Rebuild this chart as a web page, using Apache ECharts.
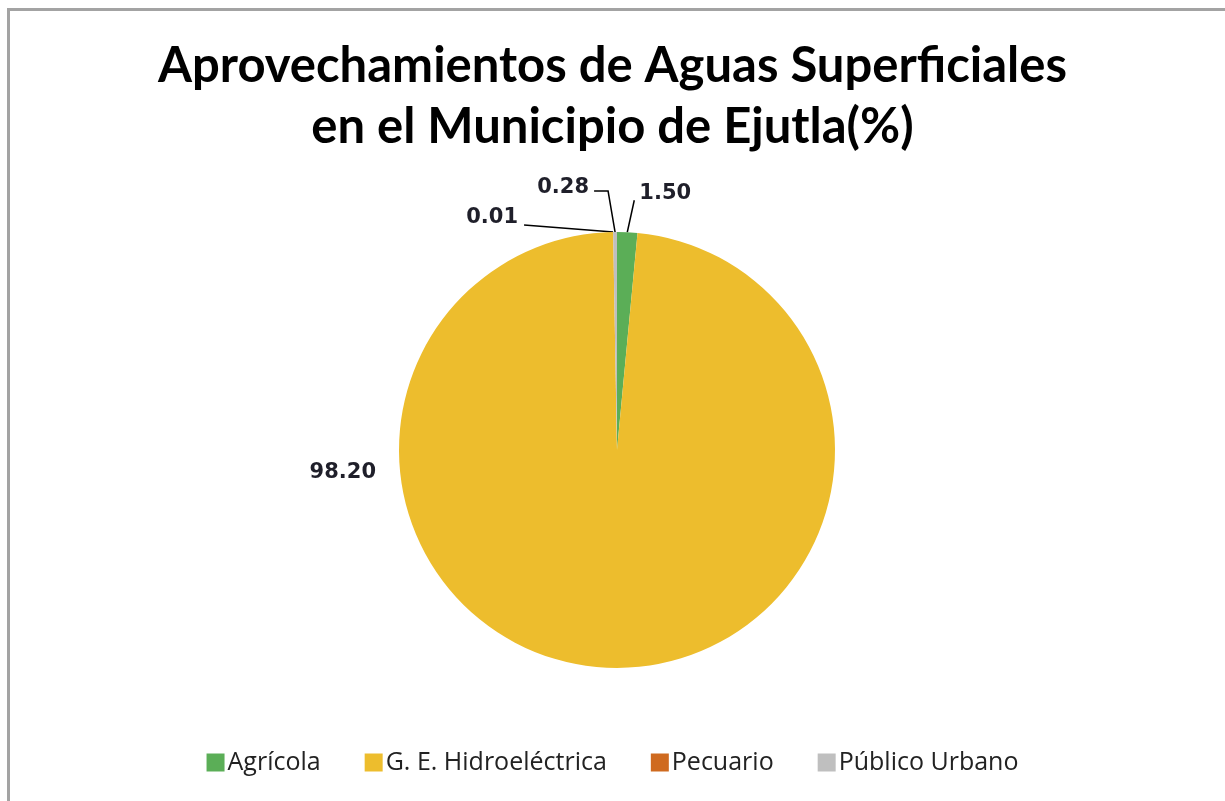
<!DOCTYPE html>
<html>
<head>
<meta charset="utf-8">
<script src="https://cdn.jsdelivr.net/npm/echarts@6/dist/echarts.min.js"></script>
<style>
    html, body {margin: 0; padding: 0; background: #fff;}
    #chart {width: 1225px; height: 801px;}
</style>
</head>
<body>
<div id="chart"></div>
<script>
// data
const categories = ['Agrícola', 'G. E. Hidroeléctrica', 'Pecuario', 'Público Urbano'];
const values = [1.50, 98.20, 0.01, 0.28];
const colors = ['#5bae57', '#edbd2d', '#cf6a1f', '#bfbfbf'];
const titleText = 'Aprovechamientos de Aguas Superficiales\nen el Municipio de Ejutla(%)';

// pie geometry
const CX = 617, CY = 450, R = 218;

// label offsets from the slice edge point (dx, dy)
const labelOffsets = [
    {dx: 38, dy: -39, line: 'diag'},
    {free: true, x: CX - R - 23, y: CY + 23},
    {dx: -121, dy: -14, line: 'straight'},
    {dx: -52, dy: -44, line: 'elbow'}
];

let chart = echarts.init(document.getElementById('chart'));

chart.setOption({
    backgroundColor: '#fff',
    animation: false,
    color: colors,
    title: {
        text: titleText,
        left: 'center',
        top: 31,
        textStyle: {
            fontFamily: 'Lato',
            fontWeight: 'bold',
            fontSize: 49,
            lineHeight: 61,
            color: '#000'
        }
    },
    graphic: [{
        type: 'rect',
        shape: {x: 8.5, y: 9.5, width: 1400, height: 1000},
        style: {fill: 'none', stroke: '#a3a3a3', lineWidth: 3}
    }],
    legend: {
        bottom: 21,
        left: 'center',
        itemWidth: 18,
        itemHeight: 18,
        itemGap: 44,
        icon: 'rect',
        textStyle: {
            fontFamily: 'Open Sans',
            fontSize: 25,
            color: '#222',
            padding: [0, 0, 0, -2]
        },
        data: categories
    },
    series: [{
        type: 'pie',
        center: [CX, CY],
        radius: R,
        startAngle: 90,
        clockwise: true,
        minAngle: 0,
        avoidLabelOverlap: false,
        label: {
            show: true,
            position: 'outside',
            formatter: p => p.value.toFixed(2),
            fontFamily: 'DejaVu Sans',
            fontWeight: 'bold',
            fontSize: 21,
            color: '#1f1f2a'
        },
        labelLine: {
            show: true,
            length: 10,
            length2: 10,
            lineStyle: {color: '#000', width: 1.5}
        },
        labelLayout: function (params) {
            let o = labelOffsets[params.dataIndex];
            if (o.free) {
                return {x: o.x, y: o.y, align: 'right', verticalAlign: 'middle'};
            }
            let p0 = params.labelLinePoints ? params.labelLinePoints[0] : [CX, CY - R];
            let lx = p0[0] + o.dx, ly = p0[1] + o.dy;
            let pts;
            if (o.line === 'diag') {
                pts = [p0, [lx - 31, ly + 7], [lx - 31, ly + 7]];
            } else if (o.line === 'straight') {
                pts = [p0, [lx + 32, ly + 7], [lx + 32, ly + 7]];
            } else {
                pts = [p0, [p0[0] - 7, ly + 3], [lx + 31, ly + 3]];
            }
            return {x: lx, y: ly, align: 'center', verticalAlign: 'middle', labelLinePoints: pts};
        },
        itemStyle: {borderWidth: 0},
        data: categories.map((name, i) => ({
            name: name,
            value: values[i],
            labelLine: {show: i !== 1}
        }))
    }]
});
</script>
</body>
</html>
